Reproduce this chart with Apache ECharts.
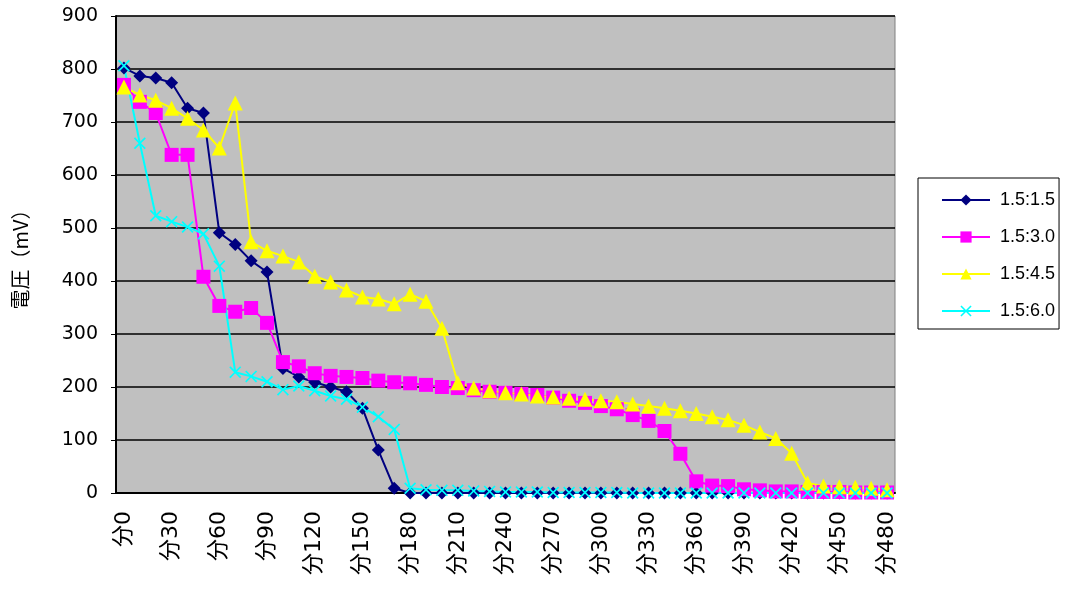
<!DOCTYPE html>
<html>
<head>
<meta charset="utf-8">
<script src="https://cdn.jsdelivr.net/npm/echarts@6/dist/echarts.min.js"></script>
<style>
  html, body { margin: 0; padding: 0; background: #fff; }
  #main { width: 1077px; height: 589px; }
</style>
</head>
<body>
<div id="main"></div>
<script>
var chartDom = document.getElementById('main');
var myChart = echarts.init(chartDom);
var option;

// x categories (minutes)
let minutes = ['分0', '分10', '分20', '分30', '分40', '分50', '分60', '分70', '分80', '分90',
    '分100', '分110', '分120', '分130', '分140', '分150', '分160', '分170', '分180', '分190',
    '分200', '分210', '分220', '分230', '分240', '分250', '分260', '分270', '分280', '分290',
    '分300', '分310', '分320', '分330', '分340', '分350', '分360', '分370', '分380', '分390',
    '分400', '分410', '分420', '分430', '分440', '分450', '分460', '分470', '分480'];

let seriesNames = ['1.5:1.5', '1.5:3.0', '1.5:4.5', '1.5:6.0'];

// voltages in mV
let v15 = [802, 787, 783, 774, 726, 717, 491, 469, 438, 417, 235, 219, 209, 200, 191, 160, 81, 9,
    0, 0, 0, 0, 0, 0, 0, 0, 0, 0, 0, 0, 0, 0, 0, 0, 0, 0, 0, 0, 0, 0, 0, 0, 0, 0, 0, 0, 0, 0, 0];
let v30 = [770, 738, 717, 638, 638, 408, 353, 342, 349, 321, 247, 239, 226, 221, 219, 217, 212, 209,
    207, 204, 200, 198, 194, 191, 189, 187, 185, 180, 174, 170, 164, 158, 147, 136, 117, 74, 22, 14,
    13, 7, 5, 3, 3, 2, 2, 2, 1, 1, 1];
let v45 = [766, 751, 741, 726, 707, 685, 651, 736, 474, 457, 447, 436, 409, 398, 383, 370, 366, 357,
    375, 362, 311, 208, 198, 193, 189, 187, 183, 181, 179, 177, 174, 172, 168, 164, 160, 155, 150, 144,
    138, 128, 115, 103, 75, 19, 13, 12, 11, 9, 6];
let v60 = [806, 660, 523, 512, 502, 489, 428, 228, 220, 210, 195, 202, 193, 183, 177, 162, 144, 120,
    9, 6, 5, 5, 4, 3, 2, 2, 2, 1, 1, 1, 1, 1, 0, 0, 0, 0, 0, 0, 0, 0, 0, 0, 0, 0, 0, 0, 0, 0, 0];

let colors = ['#000080', '#FF00FF', '#FFFF00', '#00FFFF'];
let crossPath = 'path://M0,1L1,0L5,4L9,0L10,1L6,5L10,9L9,10L5,6L1,10L0,9L4,5Z';

function lineSeries(name, data, color, symbol, size) {
    return {
        name: name,
        type: 'line',
        data: data,
        symbol: symbol,
        symbolSize: size,
        showAllSymbol: true,
        lineStyle: { color: color, width: 2 },
        itemStyle: { color: color },
        emphasis: { disabled: true },
        animation: false
    };
}

option = {
    backgroundColor: '#fff',
    textStyle: { fontFamily: '"Liberation Sans", "Noto Sans CJK JP", sans-serif' },
    grid: {
        left: 116,
        right: 182,
        top: 16,
        bottom: 96,
        show: true,
        backgroundColor: '#C0C0C0',
        borderColor: '#808080',
        borderWidth: 1
    },
    legend: {
        orient: 'vertical',
        left: 918,
        top: 178,
        data: seriesNames,
        backgroundColor: '#fff',
        borderColor: '#000',
        borderWidth: 1,
        borderRadius: 0,
        padding: [13, 4, 9, 23],
        itemGap: 19,
        itemWidth: 48,
        itemHeight: 14,
        textStyle: {
            fontSize: 18,
            color: '#000',
            fontFamily: '"Liberation Sans", Arial, sans-serif',
            padding: [0, 0, 0, 5]
        }
    },
    xAxis: {
        type: 'category',
        data: minutes,
        boundaryGap: true,
        axisLine: { lineStyle: { color: '#000', width: 2 } },
        axisTick: { inside: true, interval: 0, length: 5, lineStyle: { color: '#000' } },
        axisLabel: {
            interval: 2,
            rotate: 90,
            margin: 18,
            fontSize: 22,
            padding: [10, 0, 0, 0],
            color: '#000',
            fontFamily: '"DejaVu Sans", "Noto Sans CJK JP", sans-serif'
        },
        splitLine: { show: false }
    },
    yAxis: {
        type: 'value',
        min: 0,
        max: 900,
        interval: 100,
        name: '電圧（mV）',
        nameLocation: 'middle',
        nameRotate: 90,
        nameGap: 86,
        nameTextStyle: {
            fontSize: 20,
            color: '#000',
            fontFamily: '"Noto Sans CJK JP", sans-serif'
        },
        axisLine: { show: true, lineStyle: { color: '#000', width: 2 } },
        axisTick: { show: true, length: 5, lineStyle: { color: '#000' } },
        axisLabel: {
            margin: 18,
            fontSize: 19,
            color: '#000',
            fontFamily: '"DejaVu Sans", sans-serif'
        },
        splitLine: { lineStyle: { color: '#000', width: 1.5 } }
    },
    series: [
        lineSeries(seriesNames[0], v15, colors[0], 'diamond', 13),
        lineSeries(seriesNames[1], v30, colors[1], 'rect', 14),
        lineSeries(seriesNames[2], v45, colors[2], 'triangle', 15),
        lineSeries(seriesNames[3], v60, colors[3], crossPath, 12)
    ]
};

option && myChart.setOption(option);
</script>
</body>
</html>
